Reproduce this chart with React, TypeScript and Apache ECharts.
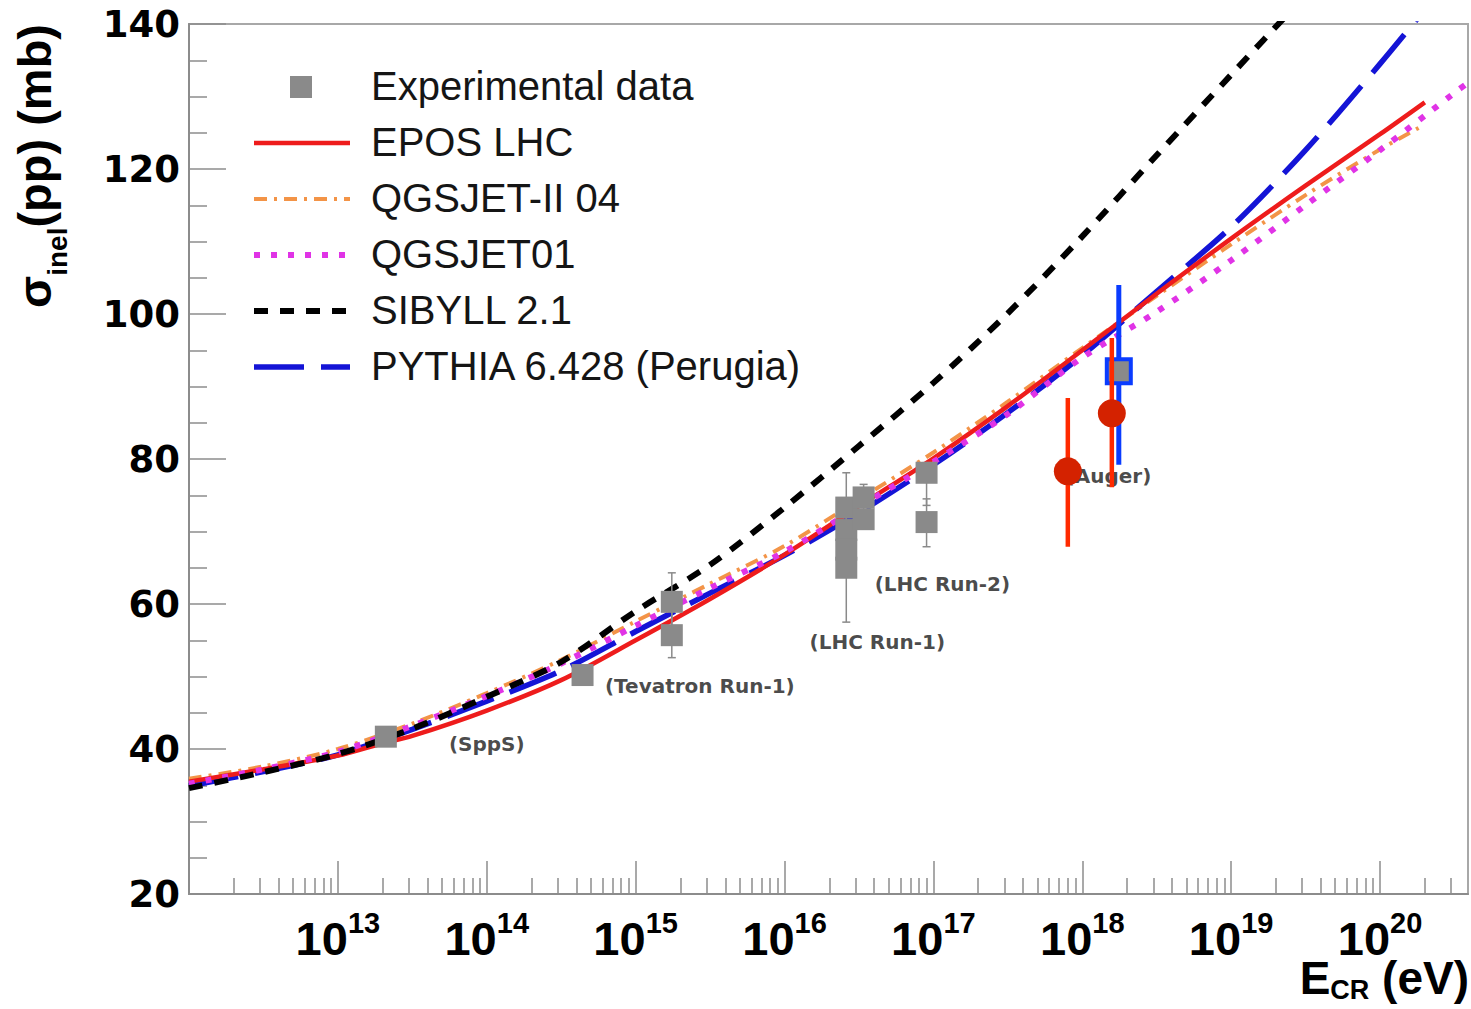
import React, { useEffect, useRef } from "react";
import * as echarts from "echarts";

// ---------- data (energies in eV, cross sections in mb) ----------
const halfDecades = [1e12, 3.16e12, 1e13, 3.16e13, 1e14, 3.16e14, 1e15, 3.16e15, 1e16, 3.16e16, 1e17, 3.16e17, 1e18, 3.16e18, 1e19, 3.16e19, 1e20];

const eposEnergy = [1e12, 3.16e12, 1e13, 2e13, 3.16e13, 1e14, 3.16e14, 1e15, 3.16e15, 1e16, 3.16e16, 1e17, 3.16e17, 1e18, 3.16e18, 1e19, 3.16e19, 1e20, 2e20];
const eposSigma = [35.5, 37.2, 39.1, 40.8, 41.8, 45.3, 49.5, 55.0, 60.7, 66.8, 73.5, 80.1, 87.3, 95.0, 102.8, 110.4, 117.7, 124.8, 129.2];

const qgsjet2Energy = [...halfDecades, 1.95e20];
const qgsjet2Sigma = [35.9, 37.6, 40.0, 43.5, 47.7, 52.3, 57.6, 62.8, 68.0, 74.4, 80.9, 87.9, 95.3, 102.5, 109.6, 116.4, 122.7, 126.0];

const qgsjet01Energy = [...halfDecades, 3.16e20, 3.9e20];
const qgsjet01Sigma = [35.2, 37.2, 39.6, 43.2, 47.3, 51.8, 57.0, 62.2, 67.2, 73.4, 79.6, 86.2, 94.0, 100.3, 107.4, 115.0, 122.6, 130.5, 131.9];

const sibyllEnergy = [1e12, 3.16e12, 1e13, 3.16e13, 1e14, 3.16e14, 1e15, 3.16e15, 1e16, 3.16e16, 1e17, 3.16e17, 1e18, 3.16e18, 1e19, 3.16e19];
const sibyllSigma = [34.6, 36.8, 39.3, 42.8, 47.2, 52.0, 59.0, 65.4, 73.3, 81.8, 90.5, 100.1, 110.7, 121.9, 133.0, 144.0];

const pythiaEnergy = [...halfDecades, 2e20];
const pythiaSigma = [34.9, 36.9, 39.2, 42.7, 46.6, 50.8, 56.2, 61.5, 66.7, 72.6, 79.2, 86.4, 94.3, 103.1, 112.0, 122.6, 134.5, 142.0];

// experimental (accelerator) data
const expEnergy = [2.1e13, 4.4e14, 1.75e15, 1.75e15, 2.6e16, 2.6e16, 2.6e16, 2.6e16, 3.4e16, 3.4e16, 9.0e16, 9.0e16];
const expSigma = [41.7, 50.2, 60.3, 55.7, 73.3, 70.2, 67.5, 65.0, 74.7, 71.7, 78.1, 71.3];
const expLow = [41.0, 49.5, 56.8, 52.6, 68.5, 66.0, 64.0, 57.5, 73.0, 70.5, 73.6, 67.9];
const expHigh = [42.5, 51.0, 64.3, 59.0, 78.1, 74.0, 71.0, 68.0, 76.5, 73.0, 79.5, 74.5];

// Auger points
const augerEnergy = [8.0e17, 1.58e18];
const augerSigma = [78.3, 86.3];
const augerLow = [67.9, 76.1];
const augerHigh = [88.4, 96.7];

const augerBoxEnergy = [1.76e18];
const augerBoxSigma = [92.1];
const augerBoxLow = [79.2];
const augerBoxHigh = [104.0];

// annotation labels
const noteText = ["(SppS)", "(Tevatron Run-1)", "(LHC Run-1)", "(LHC Run-2)", "(Auger)"];
const noteEnergy = [1.0e14, 2.7e15, 4.2e16, 1.15e17, 1.5e18];
const noteSigma = [40.7, 48.7, 54.8, 62.8, 77.7];

// axes
const majorTicks = [1e13, 1e14, 1e15, 1e16, 1e17, 1e18, 1e19, 1e20];
const minorMultipliers = [2, 3, 4, 5, 6, 7, 8, 9];
const tickDecades = [1e12, 1e13, 1e14, 1e15, 1e16, 1e17, 1e18, 1e19, 1e20];
const xMin = 1e12;
const xMax = 3.9e20;

const legendNames = ["Experimental data", "EPOS LHC", "QGSJET-II 04", "QGSJET01", "SIBYLL 2.1", "PYTHIA 6.428 (Perugia)"];

// ---------- styles ----------
const RED = "#ee1c1c";
const ORANGE = "#f39447";
const MAGENTA = "#e033e6";
const BLACK = "#000000";
const BLUE = "#1414d6";
const GREY = "#8a8a8a";
const AXIS = "#8c8c8c";

const dashes: Record<string, number[] | null> = {
  "EPOS LHC": null,
  "QGSJET-II 04": [13, 7, 3, 7],
  "QGSJET01": [6, 11],
  "SIBYLL 2.1": [14, 12],
  "PYTHIA 6.428 (Perugia)": [50, 17],
};
const colors: Record<string, string> = {
  "EPOS LHC": RED,
  "QGSJET-II 04": ORANGE,
  "QGSJET01": MAGENTA,
  "SIBYLL 2.1": BLACK,
  "PYTHIA 6.428 (Perugia)": BLUE,
};
const widths: Record<string, number> = {
  "EPOS LHC": 4.5,
  "QGSJET-II 04": 4,
  "QGSJET01": 6,
  "SIBYLL 2.1": 6,
  "PYTHIA 6.428 (Perugia)": 5.5,
};

const zip = (xs: number[], ys: number[]) => xs.map((x, i) => [x, ys[i]]);
const zip3 = (xs: number[], a: number[], b: number[]) => xs.map((x, i) => [x, a[i], b[i]]);

function curve(name: string, xs: number[], ys: number[], z: number) {
  return {
    type: "line",
    name,
    data: zip(xs, ys),
    smooth: 0.3,
    showSymbol: false,
    symbol: "none",
    z,
    lineStyle: {
      color: colors[name],
      width: widths[name],
      type: dashes[name] ? dashes[name] : "solid",
      cap: "butt",
    },
  };
}

function errorBars(data: number[][], color: string, width: number, cap: number, z: number) {
  return {
    type: "custom",
    data,
    z,
    silent: true,
    renderItem: (_params: any, api: any) => {
      const x = api.value(0);
      const lo = api.coord([x, api.value(1)]);
      const hi = api.coord([x, api.value(2)]);
      const children: any[] = [
        { type: "line", shape: { x1: lo[0], y1: lo[1], x2: hi[0], y2: hi[1] }, style: { stroke: color, lineWidth: width } },
      ];
      if (cap > 0) {
        children.push({ type: "line", shape: { x1: lo[0] - cap, y1: lo[1], x2: lo[0] + cap, y2: lo[1] }, style: { stroke: color, lineWidth: width } });
        children.push({ type: "line", shape: { x1: hi[0] - cap, y1: hi[1], x2: hi[0] + cap, y2: hi[1] }, style: { stroke: color, lineWidth: width } });
      }
      return { type: "group", children };
    },
  };
}

const minorTicks: number[] = [];
tickDecades.forEach((d) => minorMultipliers.forEach((m) => { if (d * m <= xMax) minorTicks.push(d * m); }));

function buildLegend() {
  const items: any[] = [];
  const rowY = [86, 142, 198, 254, 310, 366];
  legendNames.forEach((name, i) => {
    const y = rowY[i];
    if (i === 0) {
      items.push({ type: "rect", shape: { x: 290, y: y - 10, width: 22, height: 22 }, style: { fill: GREY } });
    } else {
      items.push({
        type: "line",
        shape: { x1: 254, y1: y + 1, x2: 350, y2: y + 1 },
        style: { stroke: colors[name], lineWidth: widths[name], lineDash: dashes[name] || undefined },
      });
    }
    items.push({
      type: "text",
      x: 371,
      y,
      style: { text: name, fontSize: 40, fontFamily: "Liberation Sans", fill: "#151515", textVerticalAlign: "middle", textAlign: "left" },
    });
  });
  return items;
}

export default function App() {
  const ref = useRef<HTMLDivElement>(null);
  useEffect(() => {
    if (!ref.current) return;
    const chart = echarts.init(ref.current, undefined, { renderer: "svg" });
    const xCommon = { type: "log", logBase: 10, min: xMin, max: xMax, gridIndex: 0, position: "bottom", splitLine: { show: false } };
    const option: any = {
      animation: false,
      backgroundColor: "#ffffff",
      grid: { left: 189, top: 24, width: 1279, height: 870, show: true, borderColor: "#a8a8a8", borderWidth: 2, backgroundColor: "transparent" },
      xAxis: [
        {
          ...xCommon,
          axisLine: { show: true, lineStyle: { color: AXIS, width: 2 } },
          axisTick: { show: true, inside: true, length: 33, customValues: majorTicks, lineStyle: { color: AXIS, width: 1.5 } },
          minorTick: { show: false },
          axisLabel: {
            show: true,
            customValues: majorTicks,
            margin: 14,
            formatter: (v: number) => `{b|10}{s|${Math.round(Math.log10(v))}}`,
            rich: {
              b: { fontSize: 47, fontWeight: "bold", fontFamily: "Liberation Sans", color: "#000", lineHeight: 54, verticalAlign: "bottom" },
              s: { fontSize: 29, fontWeight: "bold", fontFamily: "Liberation Sans", color: "#000", lineHeight: 29, verticalAlign: "top" },
            },
          },
        },
        {
          ...xCommon,
          axisLine: { show: false },
          axisTick: { show: true, inside: true, length: 16, customValues: minorTicks, lineStyle: { color: AXIS, width: 1.5 } },
          minorTick: { show: false },
          axisLabel: { show: false },
        },
      ],
      yAxis: {
        type: "value",
        min: 20,
        max: 140,
        interval: 20,
        axisLine: { show: true, lineStyle: { color: AXIS, width: 2 } },
        axisTick: { show: true, inside: true, length: 37, lineStyle: { color: AXIS, width: 1.5 } },
        minorTick: { show: true, splitNumber: 4, length: 18, lineStyle: { color: AXIS, width: 1.5 } },
        splitLine: { show: false },
        axisLabel: { fontSize: 37, fontWeight: "bold", fontFamily: "DejaVu Sans", color: "#000", margin: 9 },
      },
      graphic: [
        ...buildLegend(),
        {
          type: "text",
          x: 41,
          y: 166,
          rotation: Math.PI / 2,
          style: {
            text: "{m|σ}{s|inel}{m|(pp) (mb)}",
            textAlign: "center",
            textVerticalAlign: "middle",
            rich: {
              m: { fontSize: 47, fontWeight: "bold", fontFamily: "Liberation Sans", fill: "#000", lineHeight: 60, verticalAlign: "top" },
              s: { fontSize: 28, fontWeight: "bold", fontFamily: "Liberation Sans", fill: "#000", lineHeight: 28, verticalAlign: "bottom" },
            },
          },
        },
        {
          type: "text",
          x: 1469,
          y: 979,
          style: {
            text: "{m|E}{s|CR}{m| (eV)}",
            textAlign: "right",
            textVerticalAlign: "middle",
            rich: {
              m: { fontSize: 46, fontWeight: "bold", fontFamily: "Liberation Sans", fill: "#000", lineHeight: 48, verticalAlign: "top" },
              s: { fontSize: 27, fontWeight: "bold", fontFamily: "Liberation Sans", fill: "#000", lineHeight: 27, verticalAlign: "bottom" },
            },
          },
        },
      ],
      series: [
        {
          type: "scatter",
          name: "notes",
          data: noteEnergy.map((e, i) => ({ value: [e, noteSigma[i]], name: noteText[i] })),
          symbol: "circle",
          symbolSize: 1,
          z: 1,
          silent: true,
          itemStyle: { color: "transparent" },
          label: {
            show: true,
            position: "inside",
            formatter: (p: any) => p.name,
            fontSize: 20,
            fontWeight: "bold",
            fontFamily: "DejaVu Sans",
            color: "#1a1a1a",
          },
        },
        curve("QGSJET-II 04", qgsjet2Energy, qgsjet2Sigma, 2),
        curve("PYTHIA 6.428 (Perugia)", pythiaEnergy, pythiaSigma, 2),
        curve("EPOS LHC", eposEnergy, eposSigma, 2),
        curve("QGSJET01", qgsjet01Energy, qgsjet01Sigma, 2),
        curve("SIBYLL 2.1", sibyllEnergy, sibyllSigma, 2),
        errorBars(zip3(expEnergy, expLow, expHigh), GREY, 1.5, 4, 3),
        {
          type: "scatter",
          name: "Experimental data",
          data: zip(expEnergy, expSigma),
          symbol: "rect",
          symbolSize: 22,
          z: 4,
          itemStyle: { color: GREY, opacity: 1 },
        },
        errorBars(zip3(augerBoxEnergy, augerBoxLow, augerBoxHigh), "#0a3cff", 5, 0, 5),
        {
          type: "scatter",
          name: "Auger box",
          data: zip(augerBoxEnergy, augerBoxSigma),
          symbol: "rect",
          symbolSize: 24,
          z: 6,
          itemStyle: { color: GREY, borderColor: "#0a3cff", borderWidth: 4, opacity: 1 },
        },
        errorBars(zip3(augerEnergy, augerLow, augerHigh), "#ff2a00", 4.5, 0, 7),
        {
          type: "scatter",
          name: "Auger",
          data: zip(augerEnergy, augerSigma),
          symbol: "circle",
          symbolSize: 28,
          z: 8,
          itemStyle: { color: "#d42200", opacity: 1 },
        },
      ],
    };
    chart.setOption(option);
    return () => chart.dispose();
  }, []);
  return <div ref={ref} style={{ position: "fixed", left: 0, top: 0, width: 1471, height: 1009, background: "#fff" }} />;
}
